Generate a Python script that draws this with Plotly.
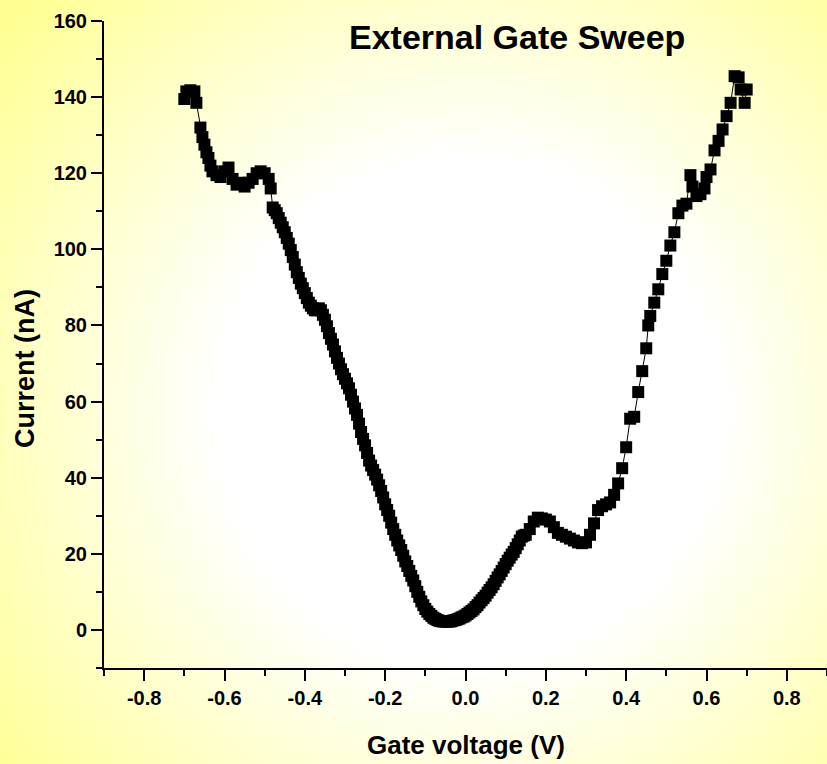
import base64
import plotly.graph_objects as go

# ---- data ----
gate_voltage = [
    -0.700, -0.695, -0.685, -0.675, -0.670, -0.660, -0.655, -0.650, -0.645, -0.640,
    -0.635, -0.630, -0.620, -0.610, -0.600, -0.590, -0.580, -0.570, -0.560, -0.550,
    -0.540, -0.530, -0.520, -0.510, -0.500, -0.490, -0.485,
    -0.480, -0.475, -0.470, -0.465, -0.460, -0.455, -0.450, -0.445, -0.440, -0.435,
    -0.430, -0.425, -0.420, -0.415, -0.410, -0.405, -0.400, -0.395, -0.390, -0.385,
    -0.380, -0.375, -0.370, -0.365, -0.360, -0.355, -0.350, -0.345, -0.340, -0.335,
    -0.330, -0.325, -0.320, -0.315, -0.310, -0.305, -0.300, -0.295, -0.290, -0.285,
    -0.280, -0.275, -0.270, -0.265, -0.260, -0.255, -0.250, -0.245, -0.240, -0.235,
    -0.230, -0.225, -0.220, -0.215, -0.210, -0.205, -0.200, -0.195, -0.190, -0.185,
    -0.180, -0.175, -0.170, -0.165, -0.160, -0.155, -0.150, -0.145, -0.140, -0.135,
    -0.130, -0.125, -0.120, -0.115, -0.110, -0.105, -0.100, -0.095, -0.090, -0.085,
    -0.080, -0.075, -0.070, -0.065, -0.060, -0.055, -0.050, -0.045, -0.040, -0.035,
    -0.030, -0.025, -0.020, -0.015, -0.010, -0.005, 0.000, 0.005, 0.010, 0.015,
    0.020, 0.025, 0.030, 0.035, 0.040, 0.045, 0.050, 0.055, 0.060, 0.065,
    0.070, 0.075, 0.080, 0.085, 0.090, 0.095, 0.100, 0.105, 0.110, 0.115,
    0.120, 0.125, 0.130, 0.135, 0.140, 0.145, 0.150, 0.160, 0.170, 0.180,
    0.190, 0.200, 0.210, 0.220, 0.230, 0.240,
    0.250, 0.260, 0.270, 0.280, 0.290, 0.300, 0.310, 0.320, 0.330, 0.340,
    0.350, 0.360, 0.370, 0.380, 0.390, 0.400, 0.410, 0.420, 0.430, 0.440,
    0.450, 0.455, 0.460, 0.470, 0.480, 0.490, 0.500, 0.510, 0.520, 0.530,
    0.540, 0.550, 0.560, 0.565, 0.575, 0.585, 0.595, 0.600, 0.610, 0.620,
    0.630, 0.640, 0.650, 0.660, 0.670, 0.680, 0.685, 0.695, 0.700,
]
current_nA = [
    139.5, 141.5, 141.8, 141.5, 138.5, 132.0, 129.5, 127.5, 125.5, 124.0,
    122.0, 120.5, 119.5, 119.0, 120.5, 121.5, 118.5, 117.0, 117.5, 116.5,
    117.5, 118.5, 120.0, 120.5, 120.0, 118.5, 116.0,
    111.0, 110.3, 109.5, 108.2, 107.0, 105.8, 104.5, 103.0, 101.5, 99.8,
    98.0, 96.0, 94.0, 92.5, 91.0, 89.8, 88.5, 87.2, 86.0, 85.2,
    84.5, 84.0, 84.0, 84.5, 84.0, 82.8, 81.5, 79.8, 78.0, 76.5,
    75.0, 73.2, 71.5, 70.0, 68.5, 67.2, 66.0, 64.8, 63.5, 61.8,
    60.0, 58.2, 56.5, 54.2, 52.0, 50.2, 48.5, 46.5, 44.5, 43.2,
    42.0, 40.8, 39.5, 38.0, 36.5, 34.8, 33.0, 31.5, 30.0, 28.2,
    26.5, 25.0, 23.5, 22.2, 21.0, 19.5, 18.0, 16.8, 15.5, 14.2,
    13.0, 11.5, 10.0, 8.7, 7.5, 6.5, 5.5, 4.8, 4.2, 3.7,
    3.2, 2.9, 2.6, 2.4, 2.3, 2.2, 2.2, 2.2, 2.2, 2.3,
    2.5, 2.6, 2.8, 3.0, 3.3, 3.5, 3.8, 4.2, 4.6, 5.0,
    5.4, 6.0, 6.5, 7.2, 7.8, 8.4, 9.0, 9.8, 10.5, 11.2,
    12.0, 12.9, 13.8, 14.6, 15.5, 16.4, 17.3, 18.2, 19.0, 19.8,
    20.5, 21.5, 22.5, 23.5, 24.5, 24.8, 25.0, 26.5, 28.5, 29.5,
    29.3, 29.0, 28.5, 27.0, 25.5, 25.0,
    24.5, 24.0, 23.5, 23.0, 22.8, 23.0, 25.0, 28.0, 31.5, 32.5,
    33.0, 33.5, 35.5, 38.5, 42.5, 48.0, 55.5, 56.0, 62.5, 68.0,
    74.0, 80.0, 82.5, 86.0, 89.5, 93.5, 97.0, 101.0, 104.5, 109.5,
    111.5, 112.0, 119.5, 116.5, 114.0, 114.5, 116.0, 119.0, 121.0, 126.0,
    128.5, 131.5, 135.0, 138.5, 145.5, 145.2, 142.0, 138.5, 142.0,
]
x_ticks = [-0.8, -0.6, -0.4, -0.2, 0.0, 0.2, 0.4, 0.6, 0.8]
x_tick_labels = ["-0.8", "-0.6", "-0.4", "-0.2", "0.0", "0.2", "0.4", "0.6", "0.8"]
y_ticks = [0, 20, 40, 60, 80, 100, 120, 140, 160]

W, H = 827, 764
ML, MR, MT, MB = 104, 0, 21, 96
PW, PH = W - ML - MR, H - MT - MB

FONT = "Liberation Sans, Arial, sans-serif"

# radial gradient background (white centre -> pale yellow edges)
svg = f'''<svg xmlns="http://www.w3.org/2000/svg" width="{W}" height="{H}">
<defs><radialGradient id="g" gradientUnits="userSpaceOnUse" cx="468" cy="410" r="600">
<stop offset="0" stop-color="#ffffff"/>
<stop offset="0.42" stop-color="#ffffff"/>
<stop offset="1" stop-color="#ffff94"/>
</radialGradient></defs>
<rect width="{W}" height="{H}" fill="url(#g)"/></svg>'''
bg_uri = "data:image/svg+xml;base64," + base64.b64encode(svg.encode()).decode()

fig = go.Figure()
fig.add_trace(go.Scatter(
    x=gate_voltage, y=current_nA, mode="lines+markers",
    line=dict(color="black", width=1),
    marker=dict(symbol="square", size=12, color="black", line=dict(width=0)),
    showlegend=False, hoverinfo="skip",
))

axis_common = dict(
    showline=True, linecolor="black", linewidth=2, showgrid=False, zeroline=False,
    ticks="outside", ticklen=11, tickwidth=2, tickcolor="black",
    tickfont=dict(family=FONT, size=20, color="black", weight="bold"),
    mirror=False,
)
fig.update_xaxes(
    range=[-0.9, 0.9], tickmode="array", tickvals=x_ticks, ticktext=x_tick_labels,
    minor=dict(dtick=0.1, tick0=-0.9, ticks="outside", ticklen=6, tickwidth=2, tickcolor="black"),
    **axis_common,
)
fig.update_yaxes(
    range=[-10, 160], tickmode="array", tickvals=y_ticks,
    minor=dict(dtick=10, tick0=-10, ticks="outside", ticklen=6, tickwidth=2, tickcolor="black"),
    **axis_common,
)

fig.update_layout(
    width=W, height=H,
    margin=dict(l=ML, r=MR, t=MT, b=MB, pad=0),
    paper_bgcolor="white", plot_bgcolor="rgba(0,0,0,0)",
    images=[dict(
        source=bg_uri, xref="paper", yref="paper",
        x=-ML / PW, y=1 + MT / PH, sizex=W / PW, sizey=H / PH,
        xanchor="left", yanchor="top", sizing="stretch", layer="below",
    )],
    annotations=[
        dict(text="External Gate Sweep", xref="paper", yref="paper",
             x=(517 - ML) / PW, y=(MT + PH - 37) / PH, xanchor="center", yanchor="middle",
             showarrow=False, font=dict(family=FONT, size=34, color="black", weight="bold")),
        dict(text="Gate voltage (V)", xref="paper", yref="paper",
             x=(466 - ML) / PW, y=(MT + PH - 745) / PH,
             xanchor="center", yanchor="middle",
             showarrow=False, font=dict(family=FONT, size=26, color="black", weight="bold")),
        dict(text="Current (nA)", xref="paper", yref="paper",
             x=(25 - ML) / PW, y=(MT + PH - 369) / PH, xanchor="center", yanchor="middle",
             textangle=-90,
             showarrow=False, font=dict(family=FONT, size=27, color="black", weight="bold")),
    ],
)

fig.write_html(
    "out.html",
    config={"displayModeBar": False},
    post_script="document.body.style.margin='0';document.body.style.overflow='hidden';",
)
